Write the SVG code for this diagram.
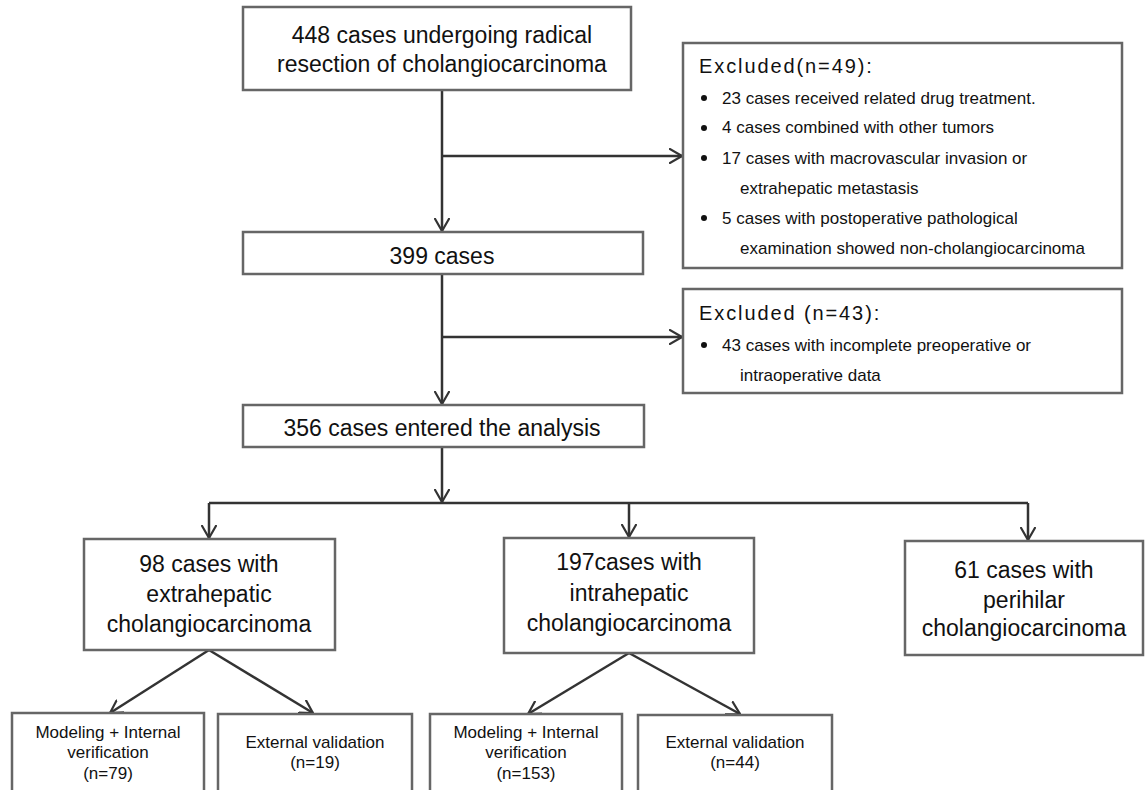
<svg xmlns="http://www.w3.org/2000/svg" width="1145" height="790" viewBox="0 0 1145 790">
<defs>
<marker id="arr" viewBox="0 0 14 16" refX="13" refY="8" markerWidth="14" markerHeight="16" markerUnits="userSpaceOnUse" orient="auto">
<path d="M0,0.5 L13,8 L0,15.5" fill="none" stroke="#333" stroke-width="2.2"/>
</marker>
<style>
.box{fill:#fff;stroke:#666;stroke-width:2.5}
.t{font-family:"Liberation Sans",Arial,sans-serif;fill:#111;text-anchor:middle}
.big{font-size:23px}
.sm{font-size:17px}
.ex{font-family:"Liberation Sans",Arial,sans-serif;fill:#111;font-size:17px}
.ttl{font-family:"Liberation Sans",Arial,sans-serif;fill:#111;font-size:20px;letter-spacing:1.9px}
.ln{fill:none;stroke:#333;stroke-width:2.5}
.dot{fill:#111}
</style>
</defs>
<rect width="1145" height="790" fill="#fff"/>
<g id="connectors">
<path class="ln" d="M442,90 V231" marker-end="url(#arr)"/>
<path class="ln" d="M442,156 H682" marker-end="url(#arr)"/>
<path class="ln" d="M442,274 V404" marker-end="url(#arr)"/>
<path class="ln" d="M442,337 H682" marker-end="url(#arr)"/>
<path class="ln" d="M442,447 V502" marker-end="url(#arr)"/>
<path class="ln" d="M209,503 H1028"/>
<path class="ln" d="M209,503 V538" marker-end="url(#arr)"/>
<path class="ln" d="M629,503 V537" marker-end="url(#arr)"/>
<path class="ln" d="M1028,503 V540" marker-end="url(#arr)"/>
<path class="ln" d="M209,650 L110,713" marker-end="url(#arr)"/>
<path class="ln" d="M209,650 L313,713" marker-end="url(#arr)"/>
<path class="ln" d="M629,653 L528,714" marker-end="url(#arr)"/>
<path class="ln" d="M629,653 L740,714" marker-end="url(#arr)"/>
</g>
<g id="n448">
<rect class="box" x="243" y="7" width="388" height="83"/>
<text class="t big" x="442" y="43">448 cases undergoing radical</text>
<text class="t big" x="442" y="72">resection of cholangiocarcinoma</text>
</g>
<g id="excl49">
<rect class="box" x="683" y="43" width="439" height="225"/>
<text class="ttl" x="699" y="73">Excluded(n=49):</text>
<circle class="dot" cx="704" cy="98" r="3"/>
<text class="ex" x="722" y="104">23 cases received related drug treatment.</text>
<circle class="dot" cx="704" cy="128" r="3"/>
<text class="ex" x="722" y="133">4 cases combined with other tumors</text>
<circle class="dot" cx="704" cy="158" r="3"/>
<text class="ex" x="722" y="164">17 cases with macrovascular invasion or</text>
<text class="ex" x="740" y="194">extrahepatic metastasis</text>
<circle class="dot" cx="704" cy="218" r="3"/>
<text class="ex" x="722" y="224">5 cases with postoperative pathological</text>
<text class="ex" x="740" y="254">examination showed non-cholangiocarcinoma</text>
</g>
<g id="n399">
<rect class="box" x="243" y="232" width="400" height="42"/>
<text class="t big" x="442" y="264">399 cases</text>
</g>
<g id="excl43">
<rect class="box" x="683" y="289" width="439" height="104"/>
<text class="ttl" x="699" y="320">Excluded (n=43):</text>
<circle class="dot" cx="704" cy="345" r="3"/>
<text class="ex" x="722" y="351">43 cases with incomplete preoperative or</text>
<text class="ex" x="740" y="381">intraoperative data</text>
</g>
<g id="n356">
<rect class="box" x="243" y="405" width="401" height="42"/>
<text class="t big" x="442" y="436">356 cases entered the analysis</text>
</g>
<g id="n98">
<rect class="box" x="84" y="539" width="251" height="111"/>
<text class="t big" x="209" y="572">98 cases with</text>
<text class="t big" x="209" y="602">extrahepatic</text>
<text class="t big" x="209" y="632">cholangiocarcinoma</text>
</g>
<g id="n197">
<rect class="box" x="504" y="538" width="250" height="115"/>
<text class="t big" x="629" y="570">197cases with</text>
<text class="t big" x="629" y="601">intrahepatic</text>
<text class="t big" x="629" y="631">cholangiocarcinoma</text>
</g>
<g id="n61">
<rect class="box" x="905" y="541" width="238" height="114"/>
<text class="t big" x="1024" y="578">61 cases with</text>
<text class="t big" x="1024" y="608">perihilar</text>
<text class="t big" x="1024" y="636">cholangiocarcinoma</text>
</g>
<g id="m79">
<rect class="box" x="12" y="713" width="192" height="90"/>
<text class="t sm" x="108" y="738">Modeling + Internal</text>
<text class="t sm" x="108" y="758">verification</text>
<text class="t sm" x="108" y="779">(n=79)</text>
</g>
<g id="v19">
<rect class="box" x="218" y="714" width="194" height="90"/>
<text class="t sm" x="315" y="748">External validation</text>
<text class="t sm" x="315" y="768">(n=19)</text>
</g>
<g id="m153">
<rect class="box" x="430" y="714" width="192" height="90"/>
<text class="t sm" x="526" y="738">Modeling + Internal</text>
<text class="t sm" x="526" y="758">verification</text>
<text class="t sm" x="526" y="779">(n=153)</text>
</g>
<g id="v44">
<rect class="box" x="638" y="715" width="194" height="90"/>
<text class="t sm" x="735" y="748">External validation</text>
<text class="t sm" x="735" y="768">(n=44)</text>
</g>
</svg>
